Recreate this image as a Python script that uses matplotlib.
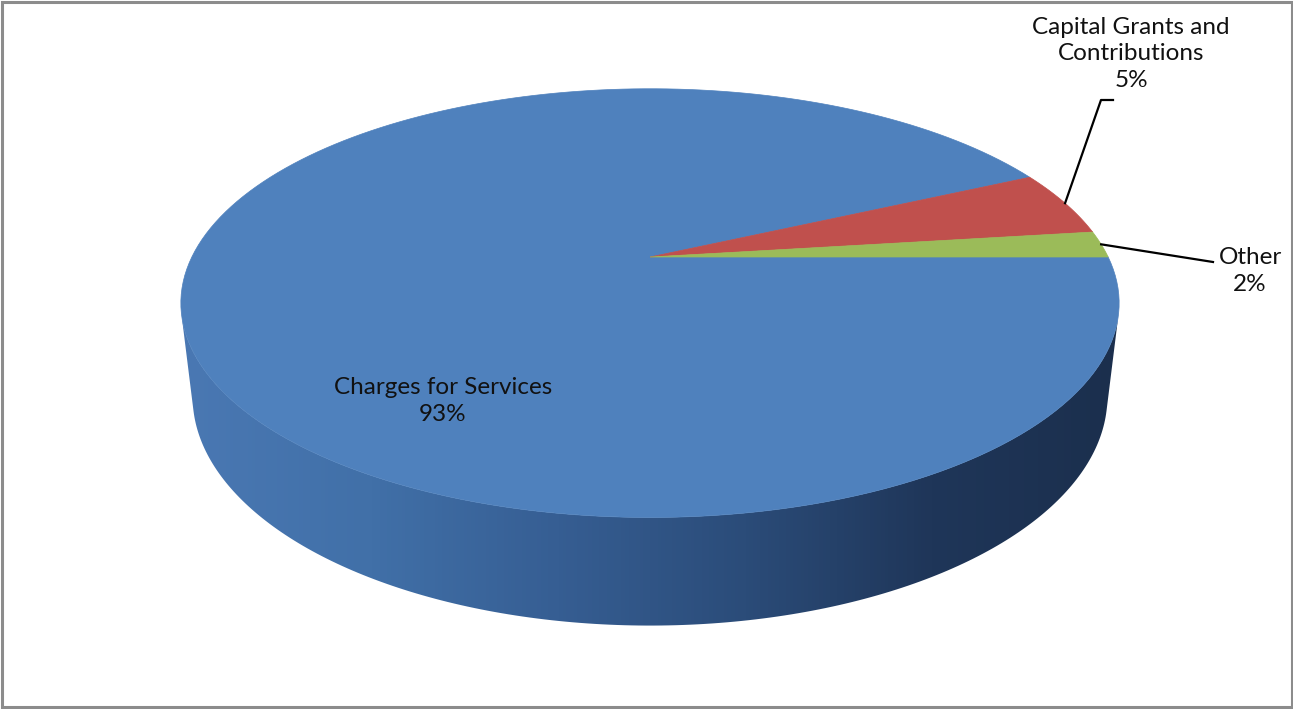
import numpy as np
import matplotlib.pyplot as plt
from matplotlib.patches import Polygon, Rectangle
from matplotlib.colors import LinearSegmentedColormap

plt.rcParams['font.family'] = ['Lato', 'DejaVu Sans']

# data
categories = ["Charges for Services", "Capital Grants and\nContributions", "Other"]
shares = [93, 5, 2]
top_colors = ["#4F81BD", "#C0504D", "#9BBB59"]

# label placement (pixels) and leader line bends
label_pos = [(443, 401), (1131, 54), (1250, 271)]
leader_pts = [None, [(1101, 100), (1113, 100)], [(1213, 262)]]

# 3D view of the pie (tilted disc with perspective), pixel space
TILT = np.radians(26.5)
S, C = np.sin(TILT), np.cos(TILT)
DIST = 4.16
FOCAL = 1906.0
CX, CY = 650.0, 257.0
THICK = 0.229


def proj(X, Y, Z):
    depth = DIST + Y * C - Z * S
    u = FOCAL * X / depth
    v = FOCAL * (Y * S + Z * C) / depth
    return CX + u, CY - v


def rim(a0, a1, z, n=200):
    a = np.radians(np.linspace(a0, a1, n))
    x, y = proj(np.cos(a), np.sin(a), z)
    return np.column_stack([x, y])


fig = plt.figure(figsize=(12.93, 7.09), dpi=100)
ax = fig.add_axes([0, 0, 1, 1])

# side wall (only the front half is visible)
lim = np.degrees(np.arcsin(-1 / (DIST * C)))
a_left, a_right = -180 - lim, lim
wall = np.vstack([rim(a_left, a_right, 0), rim(a_right, a_left, -THICK)])
wall_patch = Polygon(wall, closed=True, facecolor='none', edgecolor='none')
ax.add_patch(wall_patch)
side_cmap = LinearSegmentedColormap.from_list(
    'side', ['#4A78B3', '#4170A8', '#365E93', '#2B4C79', '#1F3659', '#1B2F4D'])
grad = np.linspace(0, 1, 256).reshape(1, -1)
im = ax.imshow(grad, cmap=side_cmap, aspect='auto',
               extent=(wall[:, 0].min(), wall[:, 0].max(), wall[:, 1].max(), wall[:, 1].min()))
im.set_clip_path(wall_patch)

# top face slices, clockwise from 3 o'clock
bounds = np.concatenate([[0], np.cumsum(shares)]) / sum(shares) * 360.0
mids = []
for i, col in enumerate(top_colors):
    a0, a1 = -bounds[i], -bounds[i + 1]
    pts = np.vstack([[CX, CY], rim(a0, a1, 0)])
    ax.add_patch(Polygon(pts, closed=True, facecolor=col, edgecolor=col, lw=0.5))
    mids.append((a0 + a1) / 2)

# labels and leader lines
for i, name in enumerate(categories):
    txt = f"{name}\n{shares[i]}%"
    lx, ly = label_pos[i]
    ax.text(lx, ly, txt, ha='center', va='center', multialignment='center',
            fontsize=17.5, color='#111111', linespacing=1.3)
    if leader_pts[i]:
        a = np.radians(mids[i])
        sx, sy = proj(np.cos(a), np.sin(a), 0)
        xs = [sx] + [p[0] for p in leader_pts[i]]
        ys = [sy] + [p[1] for p in leader_pts[i]]
        ax.plot(xs, ys, color='black', lw=1.6)

# chart area border
ax.add_patch(Rectangle((1.5, 1.5), 1290, 705, fill=False, edgecolor='#8C8C8C', lw=2.2))

ax.set_xlim(0, 1293)
ax.set_ylim(709, 0)
ax.axis('off')
fig.savefig('out.png', dpi=100)
